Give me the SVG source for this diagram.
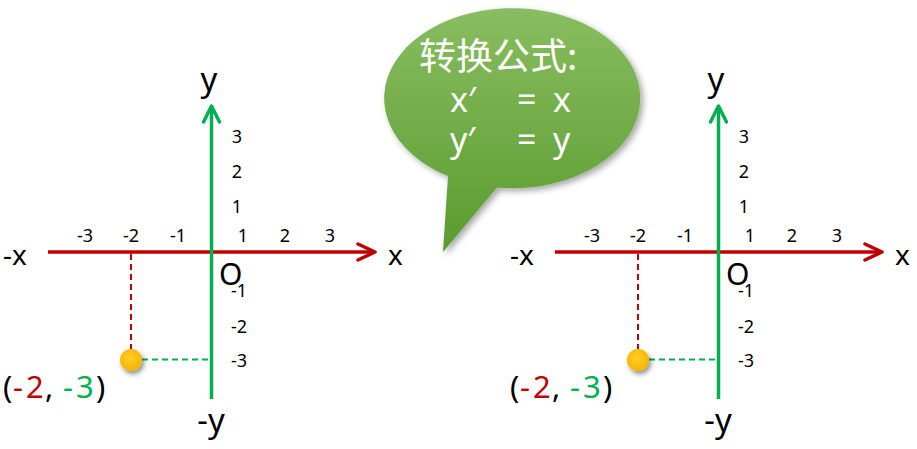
<svg xmlns="http://www.w3.org/2000/svg" width="917" height="449" viewBox="0 0 917 449">
<style>
.lbl{font-family:"Noto Sans","Liberation Sans",sans-serif;fill:#000}
.tick{font-family:"Noto Sans","Liberation Sans",sans-serif;font-size:18px;fill:#000}
.mid{text-anchor:middle}
.xax{stroke:#C00000;stroke-width:3.5;fill:none}
.yax{stroke:#00B050;stroke-width:3.5;fill:none}
.xah{stroke:#C00000;stroke-width:3.5;fill:none;stroke-linecap:round;stroke-linejoin:round}
.yah{stroke:#00B050;stroke-width:3.5;fill:none;stroke-linecap:round;stroke-linejoin:round}
.rd{stroke:#C00000;stroke-width:2;stroke-dasharray:6 4;fill:none}
.gd{stroke:#00B050;stroke-width:2;stroke-dasharray:6 4;fill:none}
.bt{font-family:"Noto Sans","Noto Sans CJK SC",sans-serif;fill:#fff;font-size:34px}
.red{fill:#C00000}
.grn{fill:#00B050}
</style>
<defs>
<linearGradient id="bg" gradientUnits="userSpaceOnUse" x1="0" y1="8" x2="0" y2="252">
<stop offset="0" stop-color="#88BD60"/>
<stop offset="1" stop-color="#5A9B2E"/>
</linearGradient>
<radialGradient id="yg" cx="0.45" cy="0.4" r="0.6">
<stop offset="0" stop-color="#FFCD2A"/>
<stop offset="1" stop-color="#F5B400"/>
</radialGradient>
<filter id="sh" x="-20%" y="-20%" width="150%" height="150%">
<feDropShadow dx="3" dy="3" stdDeviation="3" flood-color="#000" flood-opacity="0.35"/>
</filter>
<filter id="psh" x="-60%" y="-60%" width="250%" height="250%">
<feDropShadow dx="2" dy="3" stdDeviation="2.5" flood-color="#000" flood-opacity="0.45"/>
</filter>
</defs>

<g id="left-plot">
<g id="left-connectors">
<line class="xax" x1="48" y1="252" x2="373" y2="252"/>
<polyline class="xah" points="358,244 375,252 358,260"/>
<line class="yax" x1="211.5" y1="399" x2="211.5" y2="108"/>
<polyline class="yah" points="203.5,122 211.5,106 219.5,122"/>
<line class="rd" x1="131" y1="254" x2="131" y2="350"/>
<line class="gd" x1="142" y1="359.5" x2="210" y2="359.5"/>
</g>
<g id="left-labels">
<text class="lbl" x="3" y="265" font-size="28">-x</text>
<text class="lbl" x="388" y="265" font-size="28">x</text>
<text class="lbl mid" x="209" y="91" font-size="33">y</text>
<text class="lbl mid" x="211" y="432" font-size="33">-y</text>
<text class="lbl" x="219" y="285" font-size="30">O</text>
<text class="tick mid" x="85" y="242">-3</text>
<text class="tick mid" x="131" y="242">-2</text>
<text class="tick mid" x="178" y="242">-1</text>
<text class="tick mid" x="243" y="242">1</text>
<text class="tick mid" x="285" y="242">2</text>
<text class="tick mid" x="330" y="242">3</text>
<text class="tick mid" x="237" y="143">3</text>
<text class="tick mid" x="237" y="178">2</text>
<text class="tick mid" x="237" y="213">1</text>
<text class="tick mid" x="239" y="297">-1</text>
<text class="tick mid" x="239" y="333">-2</text>
<text class="tick mid" x="239" y="367">-3</text>
<text class="lbl" y="398" font-size="31"><tspan x="3">(</tspan><tspan x="13" class="red">-</tspan><tspan x="26" class="red">2</tspan><tspan x="45">,</tspan><tspan x="63" class="grn">-</tspan><tspan x="76" class="grn">3</tspan><tspan x="96">)</tspan></text>
</g>
<g id="left-point">
<circle cx="131" cy="360" r="11" fill="url(#yg)" filter="url(#psh)"/>
</g>
</g>

<g id="right-plot" transform="translate(507,0)">
<g id="right-connectors">
<line class="xax" x1="48" y1="252" x2="373" y2="252"/>
<polyline class="xah" points="358,244 375,252 358,260"/>
<line class="yax" x1="211.5" y1="399" x2="211.5" y2="108"/>
<polyline class="yah" points="203.5,122 211.5,106 219.5,122"/>
<line class="rd" x1="131" y1="254" x2="131" y2="350"/>
<line class="gd" x1="142" y1="359.5" x2="210" y2="359.5"/>
</g>
<g id="right-labels">
<text class="lbl" x="3" y="265" font-size="28">-x</text>
<text class="lbl" x="388" y="265" font-size="28">x</text>
<text class="lbl mid" x="209" y="91" font-size="33">y</text>
<text class="lbl mid" x="211" y="432" font-size="33">-y</text>
<text class="lbl" x="219" y="285" font-size="30">O</text>
<text class="tick mid" x="85" y="242">-3</text>
<text class="tick mid" x="131" y="242">-2</text>
<text class="tick mid" x="178" y="242">-1</text>
<text class="tick mid" x="243" y="242">1</text>
<text class="tick mid" x="285" y="242">2</text>
<text class="tick mid" x="330" y="242">3</text>
<text class="tick mid" x="237" y="143">3</text>
<text class="tick mid" x="237" y="178">2</text>
<text class="tick mid" x="237" y="213">1</text>
<text class="tick mid" x="239" y="297">-1</text>
<text class="tick mid" x="239" y="333">-2</text>
<text class="tick mid" x="239" y="367">-3</text>
<text class="lbl" y="398" font-size="31"><tspan x="3">(</tspan><tspan x="13" class="red">-</tspan><tspan x="26" class="red">2</tspan><tspan x="45">,</tspan><tspan x="63" class="grn">-</tspan><tspan x="76" class="grn">3</tspan><tspan x="96">)</tspan></text>
</g>
<g id="right-point">
<circle cx="131" cy="360" r="11" fill="url(#yg)" filter="url(#psh)"/>
</g>
</g>

<g id="bubble">
<path d="M448,176 L443,252 L497,187.5 A128 90 0 1 0 448,176 Z" fill="url(#bg)" filter="url(#sh)"/>
<text class="bt" x="419" y="70" style="font-family:'Noto Sans CJK SC','Noto Sans',sans-serif;font-size:37px">转换公式:</text>
<text class="bt" y="112"><tspan x="450">x′</tspan><tspan x="517">=</tspan><tspan x="553">x</tspan></text>
<text class="bt" y="152"><tspan x="450">y′</tspan><tspan x="517">=</tspan><tspan x="553">y</tspan></text>
</g>
</svg>
